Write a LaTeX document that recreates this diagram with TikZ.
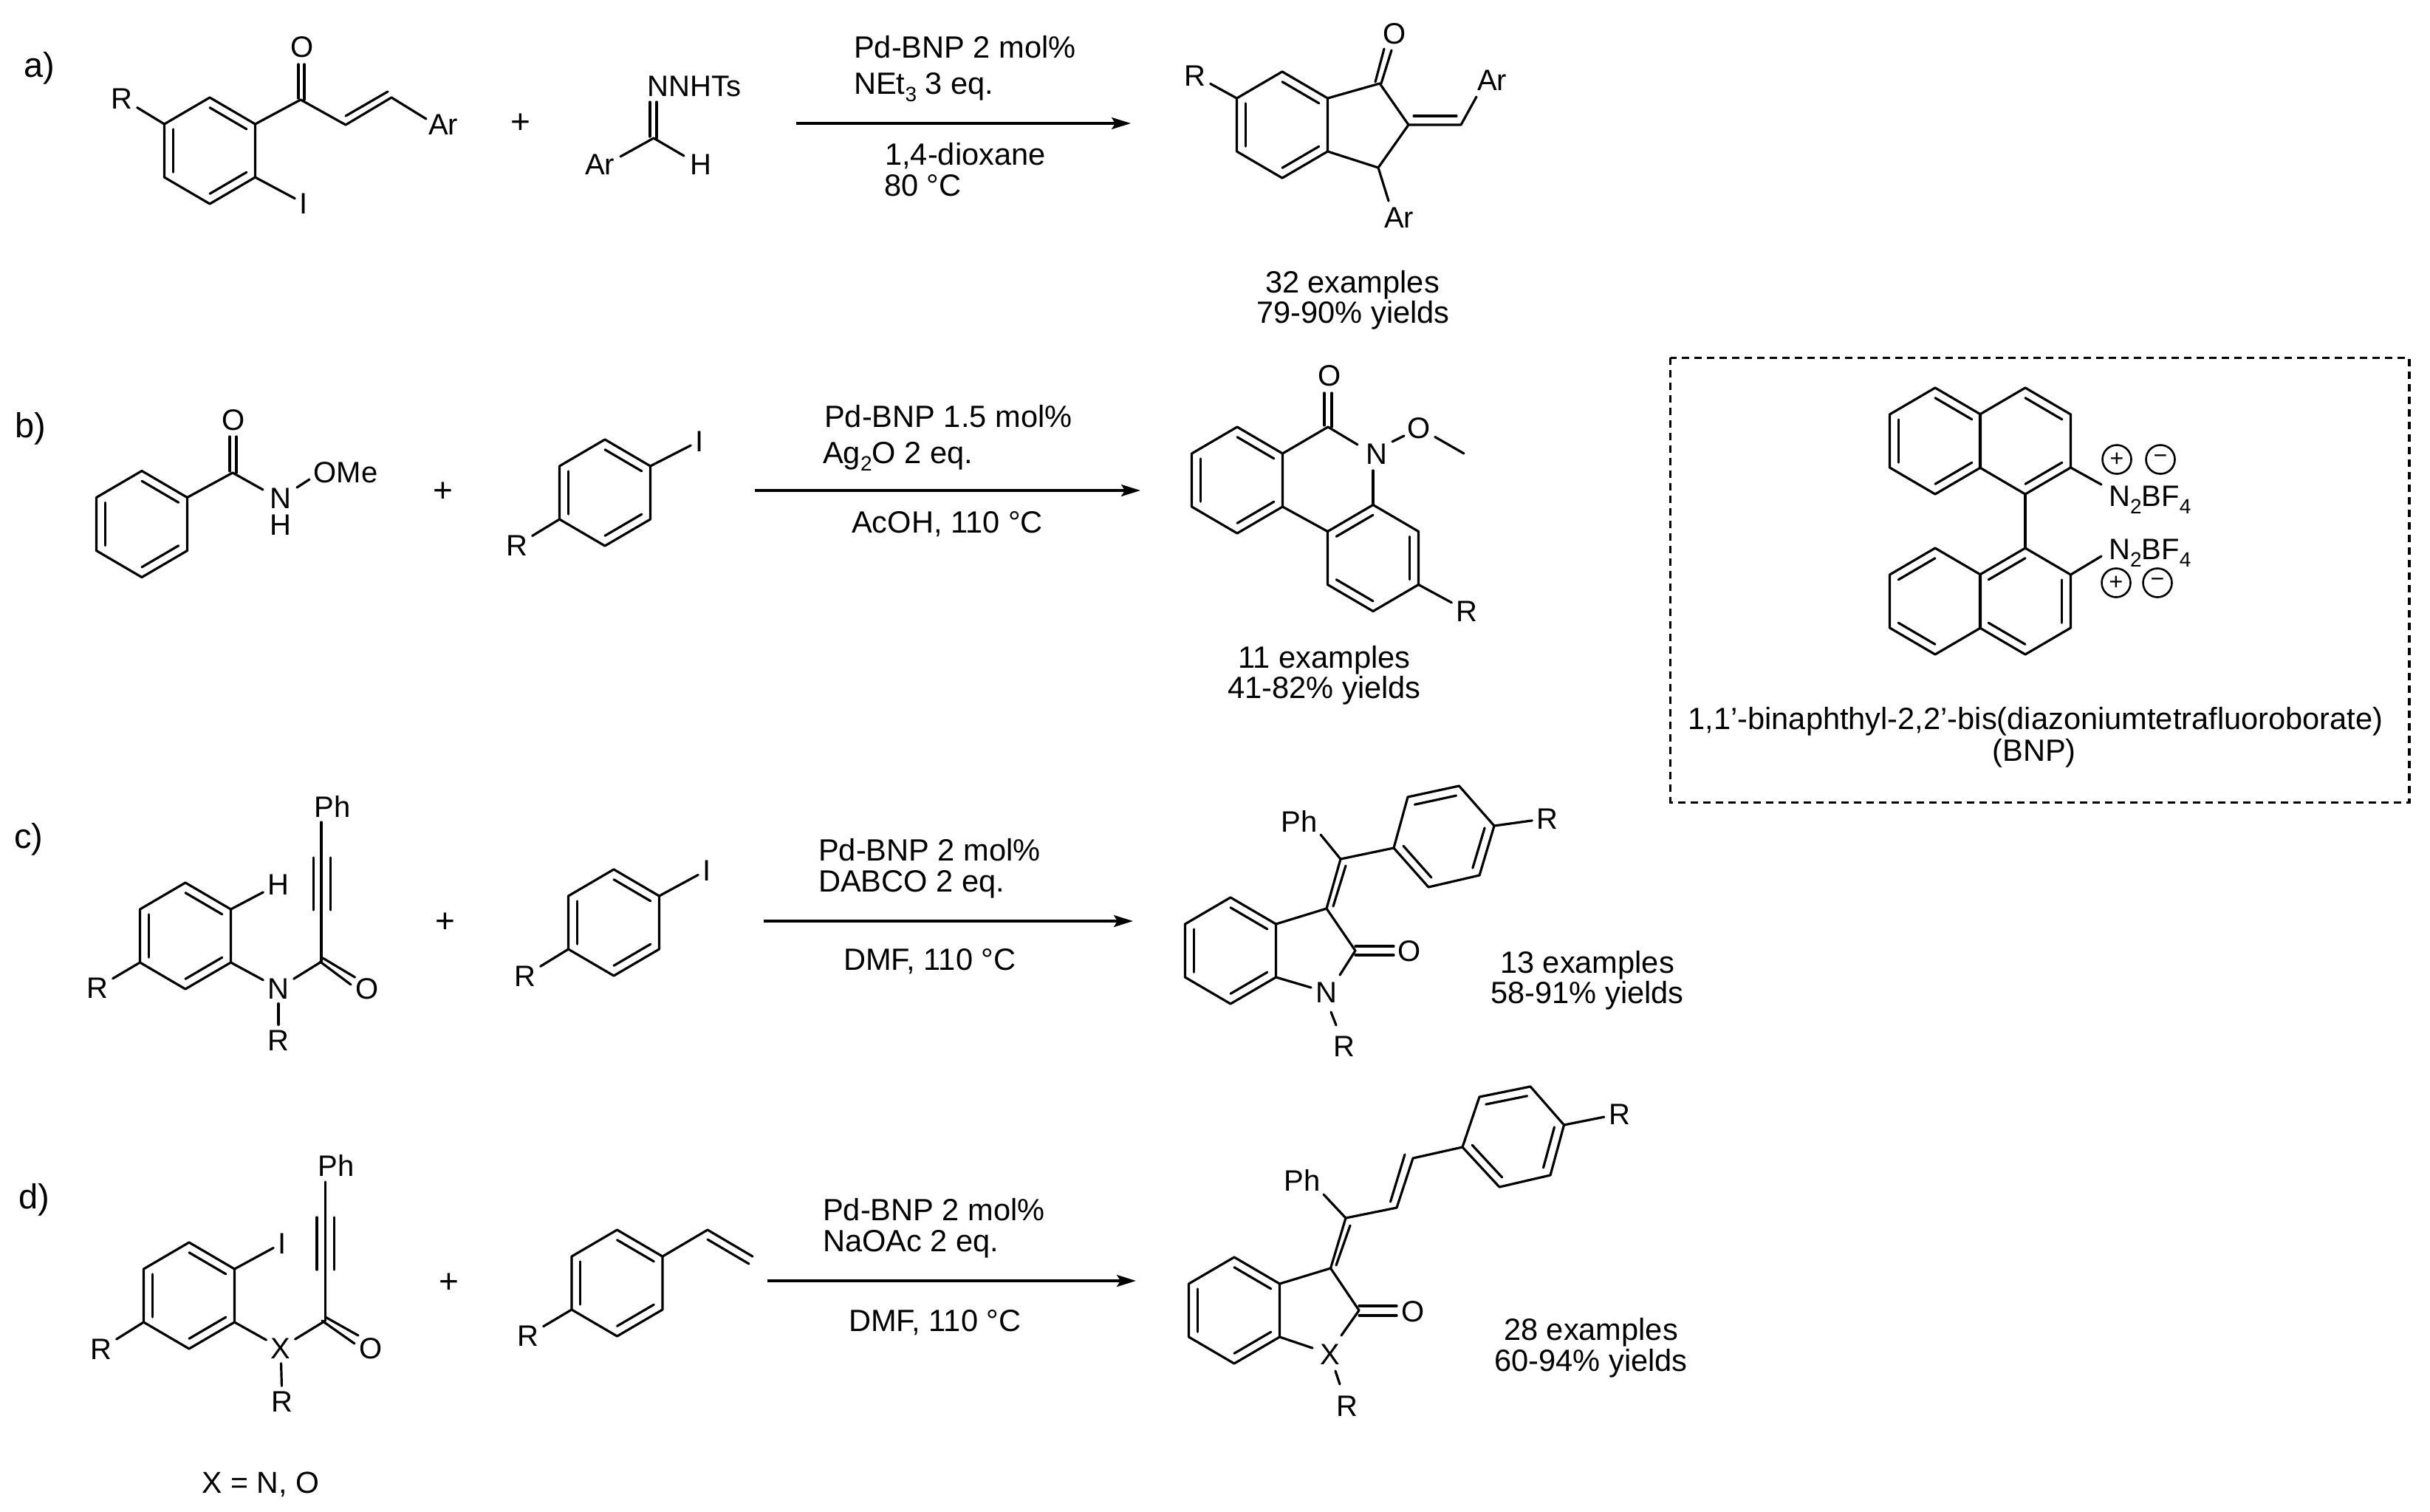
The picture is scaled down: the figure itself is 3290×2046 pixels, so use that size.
\documentclass[tikz,border=0pt]{standalone}
\usepackage{fontspec}
\setmainfont{Liberation Sans}
\usetikzlibrary{calc,arrows.meta}
\tikzset{
  bond/.style={line width=3.2pt,line cap=round,line join=round,black},
  rarrow/.style={line width=3.2pt,-{Stealth[length=26pt,width=16pt,inset=5pt]}},
  atom/.style={font=\fontsize{40pt}{40pt}\selectfont,inner sep=6pt,text height=29pt,text depth=0pt},
  txtl/.style={font=\fontsize{41.6pt}{41.6pt}\selectfont,inner sep=0pt,anchor=base west},
  txtc/.style={font=\fontsize{41.6pt}{41.6pt}\selectfont,inner sep=0pt,anchor=base},
  tag/.style={font=\fontsize{47pt}{47pt}\selectfont,inner sep=0pt,anchor=base west},
  plussign/.style={font=\fontsize{46pt}{46pt}\selectfont,inner sep=0pt},
  chg/.style={circle,draw,line width=2.6pt,inner sep=0pt,minimum size=39pt,font=\fontsize{32pt}{32pt}\selectfont},
  dashbox/.style={line width=3.3pt,dash pattern=on 10pt off 7pt},
}
\newcommand\lowsub[1]{\raisebox{-10pt}{\fontsize{28pt}{28pt}\selectfont #1}}
% hexagon: centre + six vertices, clockwise from the top
\newcommand\hexat[3]{%
  \coordinate (#1o) at (#2,#3);
  \coordinate (#1a) at ($(#1o)+(0,-72)$);
  \coordinate (#1b) at ($(#1o)+(61.5,-36)$);
  \coordinate (#1c) at ($(#1o)+(61.5,36)$);
  \coordinate (#1d) at ($(#1o)+(0,72)$);
  \coordinate (#1e) at ($(#1o)+(-61.5,36)$);
  \coordinate (#1f) at ($(#1o)+(-61.5,-36)$);
  \draw[bond] (#1a)--(#1b)--(#1c)--(#1d)--(#1e)--(#1f)--cycle;}
% inner line of a ring double bond
\newcommand\inb[3]{\draw[bond] ($(#1o)!.81!(#1#2)$) -- ($(#1o)!.81!(#1#3)$);}
\newcommand\kek[1]{\inb{#1}{a}{b}\inb{#1}{c}{d}\inb{#1}{e}{f}}
\begin{document}
\begin{tikzpicture}[x=1pt,y=-1pt]
\useasboundingbox (0,0) rectangle (3290,2046);
% ------------------ a)
\node[tag] (ta) at (32,104) {a)};
\hexat{A}{284}{204}\kek{A}
\coordinate (Aco) at (407,135);
\coordinate (Av1) at (468,169);
\coordinate (Av2) at (530,132);
\draw[bond] (Ab)--(Aco)--(Av1)--(Av2);
\draw[bond] (404,87)--(404,133);
\draw[bond] (412,87)--(412,135);
\draw[bond] (468,157)--(525,124);
\node[atom] (AO) at (409,63) {O};
\node[atom] (AR) at (165,133) {R};
\node[atom] (AI) at (411,275) {I};
\node[atom] (AAr) at (600,168) {Ar};
\draw[bond] (Af)--(AR);
\draw[bond] (Ac)--(AI);
\draw[bond] (Av2)--(577,161);
\node[plussign] (Ap) at (705,167) {+};
\node[atom,inner sep=0pt] (AN) at (940,116) {NNHTs};
\coordinate (Ah) at (885,187);
\draw[bond] (880,138)--(880,185);
\draw[bond] (889,138)--(889,187);
\node[atom] (AAr2) at (812,222) {Ar};
\node[atom] (AH) at (949,222) {H};
\draw[bond] (Ah)--(840,212);
\draw[bond] (Ah)--(926,211);
\coordinate (As) at (1078,167);
\coordinate (Ae) at (1531,167);
\draw[rarrow] (As)--(Ae);
\node[txtl] (At1) at (1156,78) {Pd-BNP 2 mol\%};
\node[txtl] (At2) at (1156,127) {NEt\lowsub{3} 3 eq.};
\node[txtl] (At3) at (1198,223) {1,4-dioxane};
\node[txtl] (At4) at (1197,265) {80 °C};
\hexat{P}{1736}{169}\kek{P}
\coordinate (Pc1) at (1868,113);
\coordinate (Pc2) at (1907,169);
\coordinate (Pc3) at (1866,227);
\coordinate (Pex) at (1978,169);
\draw[bond] (Pb)--(Pc1)--(Pc2)--(Pc3)--(Pc);
\draw[bond] (Pc2)--(Pex)--(1999,131);
\draw[bond] (1914,157)--(1972,157);
\draw[bond] (1862,111)--(1874,66);
\draw[bond] (1870,113)--(1884,68);
\draw[bond] (Pc3)--(1880,272);
\node[atom] (PO) at (1888,45) {O};
\node[atom] (PR) at (1618,102) {R};
\node[atom] (PAr) at (2020,108) {Ar};
\node[atom] (PAr2) at (1894,294) {Ar};
\draw[bond] (Pf)--(PR);
\node[txtc] (Pt1) at (1831,396) {32 examples};
\node[txtc] (Pt2) at (1832,437) {79-90\% yields};
% ------------------ b)
\node[tag] (tb) at (20,592) {b)};
\hexat{B}{192}{709.5}\kek{B}
\coordinate (Bco) at (315,640);
\draw[bond] (Bb)--(Bco)--(356,663);
\draw[bond] (311,591)--(311,638);
\draw[bond] (320,591)--(320,640);
\node[atom] (BO) at (316,568) {O};
\node[atom] (BN) at (380,674) {N};
\node[atom] (BH) at (380,710) {H};
\node[atom,inner sep=0pt] (BOMe) at (468,639) {OMe};
\draw[bond] (402,660)--(419,649);
\node[plussign] (Bp) at (600,666) {+};
\hexat{C}{819}{667}\kek{C}
\node[atom] (CI) at (947,597) {I};
\node[atom] (CR) at (700,738) {R};
\draw[bond] (Cb)--(CI);
\draw[bond] (Ce)--(CR);
\coordinate (Bs) at (1022,664);
\coordinate (Be) at (1544,664);
\draw[rarrow] (Bs)--(Be);
\node[txtl] (Bt1) at (1116,578) {Pd-BNP 1.5 mol\%};
\node[txtl] (Bt2) at (1114,627) {Ag\lowsub{2}O 2 eq.};
\node[txtl] (Bt3) at (1153,721) {AcOH, 110 °C};
\hexat{D}{1675}{650}\kek{D}
\hexat{E}{1859}{755.5}
\inb{E}{a}{f}\inb{E}{b}{c}\inb{E}{d}{e}
\coordinate (Dco) at (1798,578);
\node[atom] (DN) at (1864,614) {N};
\node[atom] (DO) at (1800,508) {O};
\node[atom] (DO2) at (1921,579) {O};
\coordinate (Dme) at (1982,614);
\draw[bond] (Db)--(Dco)--(1838,602);
\draw[bond] (1793,532)--(1793,576);
\draw[bond] (1803,532)--(1803,578);
\draw[bond] (Dc)--(Ef);
\draw[bond] (1859,637)--(Ea);
\draw[bond] (1885,598)--(1901,590);
\draw[bond] (DO2)--(Dme);
\node[atom] (ER) at (1986,827) {R};
\draw[bond] (Ec)--(ER);
\node[txtc] (Dt1) at (1793,904) {11 examples};
\node[txtc] (Dt2) at (1793,945) {41-82\% yields};
% ------------------ BNP box
\draw[dashbox] (2261.7,484.3) rectangle (3262,1086.3);
\hexat{F}{2620}{597}\hexat{G}{2742}{597}
\hexat{H}{2620}{814}\hexat{I}{2742}{814}
\inb{F}{a}{b}\inb{F}{e}{f}\inb{F}{c}{d}
\inb{G}{a}{b}\inb{G}{c}{d}
\inb{H}{a}{f}\inb{H}{d}{e}
\inb{I}{a}{f}\inb{I}{d}{e}\inb{I}{b}{c}
\draw[bond] (Gd)--(Ia);
\draw[bond] (Gc)--(2845,656);
\draw[bond] (Ib)--(2845,753);
\node[inner sep=0pt,anchor=base west,font=\fontsize{40pt}{40pt}\selectfont] (N1) at (2855,685) {N\lowsub{2}BF\lowsub{4}};
\node[inner sep=0pt,anchor=base west,font=\fontsize{40pt}{40pt}\selectfont] (N2) at (2855,757) {N\lowsub{2}BF\lowsub{4}};
\node[chg] (q1) at (2866,622) {+};
\node[chg] (q2) at (2925,622) {−};
\node[chg] (q3) at (2865,789) {+};
\node[chg] (q4) at (2921,789) {−};
\node[txtc] (Ft1) at (2756,987) {1,1’-binaphthyl-2,2’-bis(diazoniumtetrafluoroborate)};
\node[txtc] (Ft2) at (2754,1030) {(BNP)};
% ------------------ c)
\node[tag] (tc) at (19,1148) {c)};
\hexat{J}{251}{1267}\kek{J}
\node[atom] (JH) at (377,1197) {H};
\node[atom] (JR) at (132,1337) {R};
\node[atom] (JN) at (377,1338) {N};
\node[atom] (JO) at (497,1338) {O};
\node[atom] (JR2) at (377,1408) {R};
\node[atom] (JPh) at (450,1092) {Ph};
\coordinate (Jco) at (435,1302);
\draw[bond] (Jb)--(JH);
\draw[bond] (Je)--(JR);
\draw[bond] (Jc)--(JN);
\draw[bond] (Jco)--(JN);
\draw[bond] (JN)--(JR2);
\draw[bond] (437,1297)--(480.5,1323);
\draw[bond] (433.5,1302)--(475,1333);
\draw[bond] (Jco)--(435,1113);
\draw[bond] (424.5,1161)--(424.5,1232);
\draw[bond] (447.5,1161)--(447.5,1232);
\node[plussign] (Jp) at (603,1249) {+};
\hexat{K}{831}{1249}\kek{K}
\node[atom] (KI) at (957,1178) {I};
\node[atom] (KR) at (711,1321) {R};
\draw[bond] (Kb)--(KI);
\draw[bond] (Ke)--(KR);
\coordinate (Cs) at (1034,1247);
\coordinate (Ce2) at (1534,1247);
\draw[rarrow] (Cs)--(Ce2);
\node[txtl] (Ct1) at (1108,1165) {Pd-BNP 2 mol\%};
\node[txtl] (Ct2) at (1108,1207) {DABCO 2 eq.};
\node[txtl] (Ct3) at (1142,1313) {DMF, 110 °C};
\hexat{L}{1666}{1287}\kek{L}
\coordinate (Lc3) at (1796,1230);
\coordinate (Lc2) at (1835,1287);
\coordinate (Lex) at (1815,1163);
\node[atom] (LO) at (1908,1287) {O};
\node[atom] (LN) at (1796,1343) {N};
\node[atom] (LR) at (1820,1416) {R};
\node[atom] (LPh) at (1759,1112) {Ph};
\draw[bond] (Lb)--(Lc3)--(Lc2)--(1814,1320);
\draw[bond] (Lc)--(1775,1337);
\draw[bond] (1835,1281)--(1887,1281);
\draw[bond] (1835,1293)--(1887,1293);
\draw[bond] (1802,1370)--(1809,1388);
\draw[bond] (Lc3)--(Lex);
\draw[bond] (1805,1227)--(1822,1172);
\draw[bond] (Lex)--(1788,1130);
\coordinate (Ma) at (1887,1148);
\coordinate (Mb) at (1906,1079);
\coordinate (Mc) at (1975.5,1064);
\coordinate (Md) at (2023,1118);
\coordinate (Me) at (2003,1185);
\coordinate (Mf) at (1934,1201);
\coordinate (Mo) at (1955,1133);
\draw[bond] (Ma)--(Mb)--(Mc)--(Md)--(Me)--(Mf)--cycle;
\inb{M}{b}{c}\inb{M}{d}{e}\inb{M}{f}{a}
\draw[bond] (Lex)--(Ma);
\node[atom] (MR) at (2095,1108) {R};
\draw[bond] (Md)--(MR);
\node[txtc] (Mt1) at (2149,1317) {13 examples};
\node[txtc] (Mt2) at (2149,1358) {58-91\% yields};
% ------------------ d)
\node[tag] (td) at (25,1636) {d)};
\hexat{Q}{256}{1754}\kek{Q}
\node[atom] (QI) at (382,1683) {I};
\node[atom] (QR) at (137,1826) {R};
\node[atom] (QX) at (380,1825) {X};
\node[atom] (QO) at (502,1825) {O};
\node[atom] (QR2) at (382,1897) {R};
\node[atom] (QPh) at (455,1578) {Ph};
\coordinate (Qco) at (440.5,1788);
\draw[bond] (Qb)--(QI);
\draw[bond] (Qe)--(QR);
\draw[bond] (Qc)--(QX);
\draw[bond] (Qco)--(QX);
\draw[bond] (QX)--(QR2);
\draw[bond] (440.5,1783)--(485,1808);
\draw[bond] (436,1788)--(480,1819);
\draw[bond] (Qco)--(440.5,1600);
\draw[bond] (429,1648)--(429,1719);
\draw[bond] (452.5,1648)--(452.5,1719);
\node[txtc,font=\fontsize{41pt}{41pt}\selectfont] (Qt) at (353,2021) {X = N, O};
\node[plussign] (Qp) at (607.5,1737) {+};
\hexat{S}{835.5}{1737}\kek{S}
\coordinate (Sv1) at (958,1665);
\coordinate (Sv2) at (1019,1701);
\draw[bond] (Sb)--(Sv1)--(Sv2);
\draw[bond] (958,1678)--(1014,1711);
\node[atom] (SR) at (715,1808) {R};
\draw[bond] (Se)--(SR);
\coordinate (Ds) at (1039,1734);
\coordinate (De) at (1538,1734);
\draw[rarrow] (Ds)--(De);
\node[txtl] (Dd1) at (1114,1652) {Pd-BNP 2 mol\%};
\node[txtl] (Dd2) at (1114,1694) {NaOAc 2 eq.};
\node[txtl] (Dd3) at (1149,1802) {DMF, 110 °C};
\hexat{T}{1671}{1774}\kek{T}
\coordinate (Tc3) at (1801.5,1717);
\coordinate (Tc2) at (1840,1774);
\coordinate (Tex) at (1822,1649);
\coordinate (Tv1) at (1891,1635);
\coordinate (Tv2) at (1913,1568);
\node[atom] (TO) at (1913,1775) {O};
\node[atom] (TX) at (1801,1833) {X};
\node[atom] (TR) at (1824,1903) {R};
\node[atom] (TPh) at (1763,1598) {Ph};
\draw[bond] (Tb)--(Tc3)--(Tc2)--(1816,1808);
\draw[bond] (Tc)--(1777,1825);
\draw[bond] (1840,1768)--(1891,1768);
\draw[bond] (1840,1781)--(1891,1781);
\draw[bond] (1808,1856)--(1814,1874);
\draw[bond] (Tc3)--(Tex);
\draw[bond] (1809,1713)--(1828,1659);
\draw[bond] (Tex)--(1792,1617);
\draw[bond] (Tex)--(Tv1)--(Tv2);
\draw[bond] (1882.5,1627)--(1902,1563);
\coordinate (Ua) at (1980,1553);
\coordinate (Ub) at (2003,1485);
\coordinate (Uc) at (2072,1471);
\coordinate (Ud) at (2117.5,1523);
\coordinate (Ue) at (2099,1591);
\coordinate (Uf) at (2030,1607);
\coordinate (Uo) at (2049,1538);
\draw[bond] (Ua)--(Ub)--(Uc)--(Ud)--(Ue)--(Uf)--cycle;
\inb{U}{b}{c}\inb{U}{d}{e}\inb{U}{f}{a}
\draw[bond] (Tv2)--(Ua);
\node[atom] (UR) at (2192.5,1508) {R};
\draw[bond] (Ud)--(UR);
\node[txtc] (Ut1) at (2154,1814) {28 examples};
\node[txtc] (Ut2) at (2154,1856) {60-94\% yields};
\end{tikzpicture}
\end{document}
